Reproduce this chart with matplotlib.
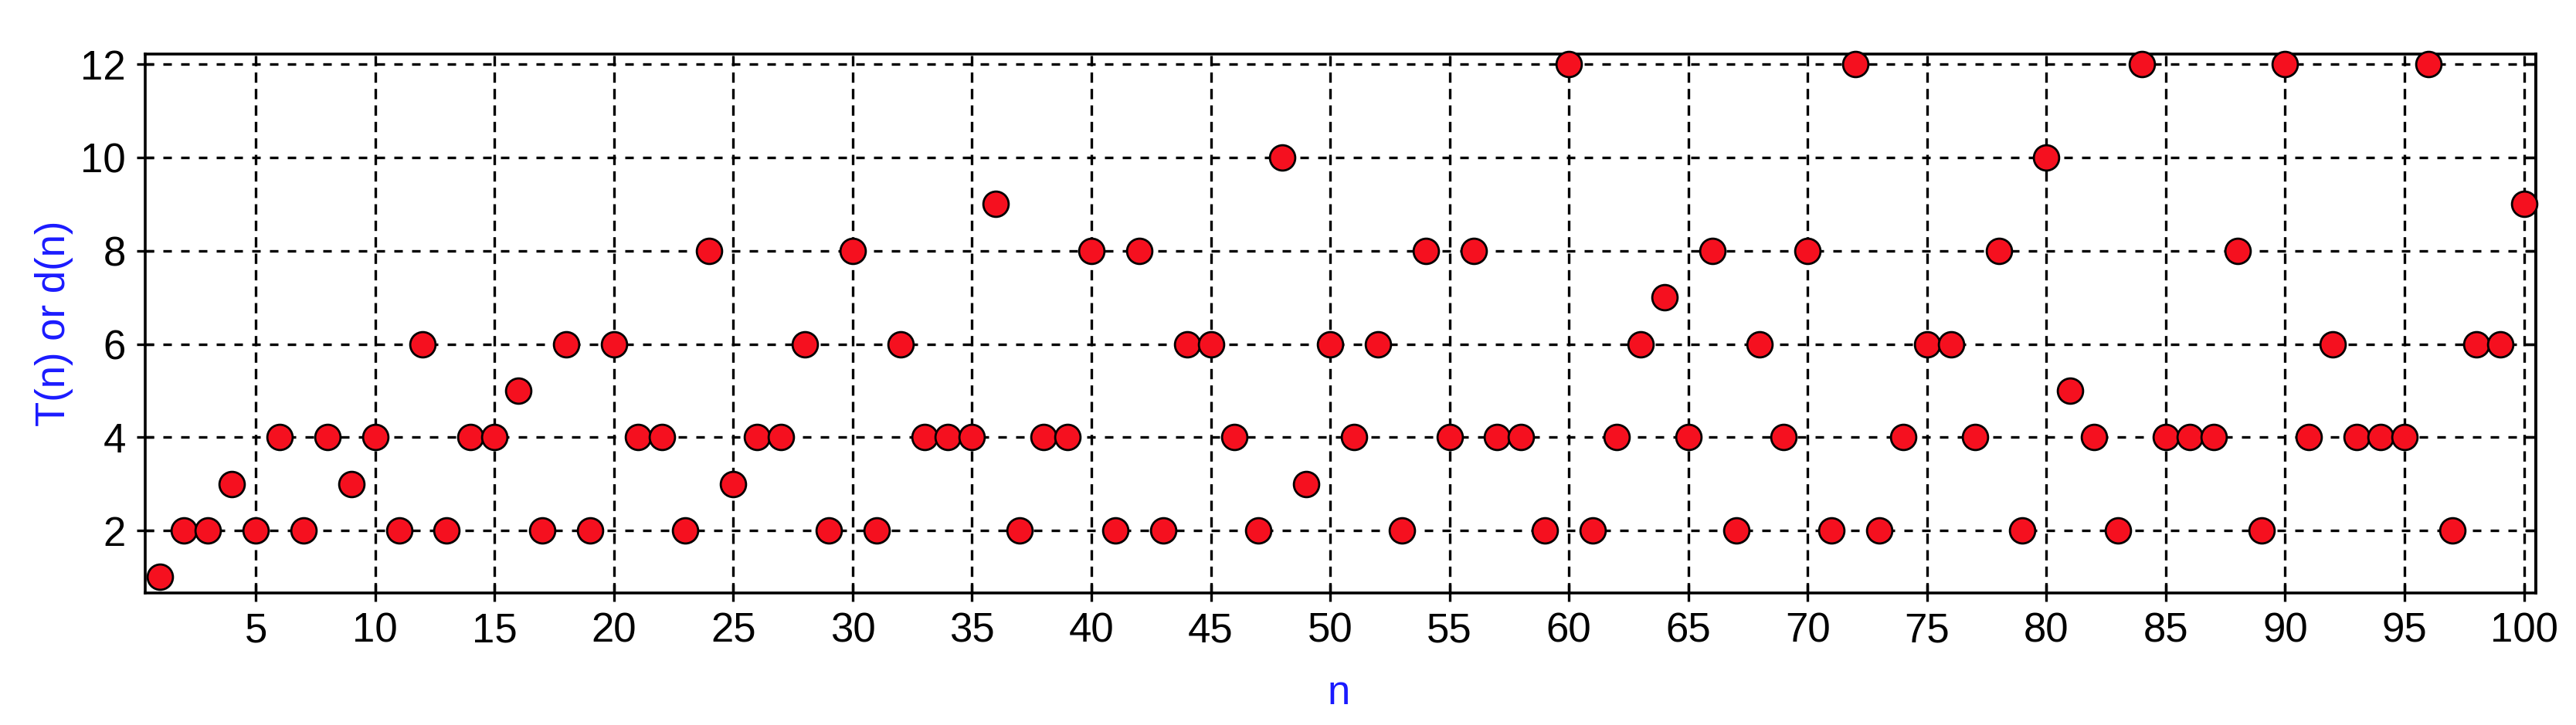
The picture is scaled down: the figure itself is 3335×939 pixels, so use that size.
import numpy as np
import matplotlib
matplotlib.use("Agg")
import matplotlib.pyplot as plt

plt.rcParams['font.family'] = ['Liberation Sans', 'DejaVu Sans']

# number of divisors d(n)
n_vals = list(range(1, 101))
d_vals = [1, 2, 2, 3, 2, 4, 2, 4, 3, 4,
          2, 6, 2, 4, 4, 5, 2, 6, 2, 6,
          4, 4, 2, 8, 3, 4, 4, 6, 2, 8,
          2, 6, 4, 4, 4, 9, 2, 4, 4, 8,
          2, 8, 2, 6, 6, 4, 2, 10, 3, 6,
          4, 6, 2, 8, 4, 8, 4, 4, 2, 12,
          2, 4, 6, 7, 4, 8, 2, 6, 4, 8,
          2, 12, 2, 4, 6, 6, 4, 8, 2, 10,
          5, 4, 2, 12, 4, 4, 4, 8, 2, 12,
          4, 6, 4, 4, 4, 12, 2, 6, 6, 9]
x_ticks = list(range(5, 101, 5))
y_ticks = [2, 4, 6, 8, 10, 12]

fig = plt.figure(figsize=(16.675, 4.695), dpi=200)
ax = fig.add_axes([188/3335, 1 - 768/939, (3283-188)/3335, (768-70)/939])

for y in y_ticks:
    ax.axhline(y, color='black', lw=1.2, ls=(0, (3.3, 3.6)), zorder=1)
for x in x_ticks:
    ax.axvline(x, color='black', lw=1.2, ls=(0, (4, 2.4)), zorder=1)

ax.plot(n_vals, d_vals, 'o', ms=11.8, mfc='#f5101f', mec='black', mew=1.0,
        zorder=3, clip_on=False)

ax.set_xlim(0.37, 100.5)
ax.set_ylim(0.66, 12.22)
ax.set_xticks(x_ticks)
ax.set_yticks(y_ticks)
ax.tick_params(direction='inout', length=8, width=1.2, labelsize=19, pad=5)
for s in ax.spines.values():
    s.set_linewidth(1.3)

sec = ax.secondary_yaxis('right')
sec.set_yticks(y_ticks)
sec.tick_params(direction='in', length=5, width=1.2, labelright=False)
sec.spines['right'].set_linewidth(1.3)

ax.set_xlabel('n', color='#1a1aff', fontsize=19)
ax.set_ylabel('T(n) or d(n)', color='#1a1aff', fontsize=19, va='center')
ax.xaxis.set_label_coords((1733 - 188) / 3095, -0.186)
ax.yaxis.set_label_coords(-0.038, 0.5)
ax.xaxis.label.set_va('center')

fig.savefig('out.png', dpi=200)
